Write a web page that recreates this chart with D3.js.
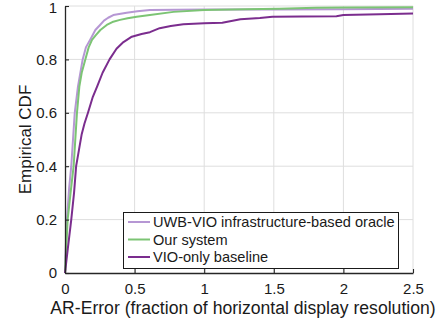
<!DOCTYPE html>
<html><head><meta charset="utf-8">
<script src="https://cdn.jsdelivr.net/npm/d3@7"></script>
<style>
body{margin:0;background:#fff;}
svg text{font-family:"Liberation Sans",Arial,Helvetica,sans-serif;fill:#1a1a1a;}
</style></head>
<body><svg id="c" width="439" height="325"></svg>
<script>
const xTicks=[0,0.5,1,1.5,2,2.5];
const xTickLabels=["0","0.5","1","1.5","2","2.5"];
const yTicks=[0,0.2,0.4,0.6,0.8,1];
const yTickLabels=["0","0.2","0.4","0.6","0.8","1"];
const seriesNames=["UWB-VIO infrastructure-based oracle","Our system","VIO-only baseline"];

const oracleX=[0,0.003,0.014,0.03,0.045,0.07,0.093,0.127,0.15,0.18,0.218,0.25,0.28,0.31,0.347,0.4,0.443,0.52,0.61,0.8,1.0,1.5,2.0,2.5];
const oracleY=[0,0.06,0.2,0.32,0.4,0.6,0.698,0.8,0.845,0.873,0.91,0.928,0.945,0.956,0.966,0.971,0.975,0.98,0.985,0.986,0.987,0.987,0.988,0.99];

const oursX=[0,0.005,0.019,0.04,0.062,0.086,0.103,0.12,0.146,0.17,0.194,0.22,0.254,0.3,0.34,0.395,0.45,0.515,0.61,0.78,1.0,1.3,1.54,1.8,2.0,2.5];
const oursY=[0,0.05,0.2,0.3,0.4,0.6,0.698,0.75,0.8,0.845,0.873,0.89,0.91,0.929,0.94,0.948,0.954,0.96,0.966,0.978,0.985,0.988,0.99,0.993,0.994,0.995];

const vioX=[0,0.02,0.045,0.065,0.08,0.1,0.12,0.14,0.165,0.2,0.232,0.27,0.32,0.37,0.42,0.48,0.55,0.61,0.68,0.76,0.85,1.0,1.13,1.26,1.4,1.49,1.7,1.95,2.0,2.26,2.5];
const vioY=[0,0.09,0.2,0.3,0.4,0.46,0.52,0.56,0.6,0.66,0.7,0.75,0.8,0.84,0.865,0.885,0.895,0.902,0.917,0.925,0.932,0.935,0.937,0.95,0.955,0.96,0.961,0.962,0.966,0.969,0.972];

const colors=["#b697d4","#7cc474","#7b2d8e"];
const svg=d3.select("#c");
const L=65,R=413,T=6,B=273;
const x=d3.scaleLinear().domain([0,2.5]).range([L,R]);
const y=d3.scaleLinear().domain([0,1]).range([B,T]);

// grid
const g=svg.append("g");
g.selectAll(".vg").data(xTicks.slice(1)).enter().append("line")
 .attr("x1",d=>x(d)).attr("x2",d=>x(d)).attr("y1",T).attr("y2",B)
 .attr("stroke","#dedede").attr("stroke-width",1);
g.selectAll(".hg").data(yTicks.slice(1)).enter().append("line")
 .attr("x1",L).attr("x2",R).attr("y1",d=>y(d)).attr("y2",d=>y(d))
 .attr("stroke","#dedede").attr("stroke-width",1);

// lines
const sets=[[oracleX,oracleY],[oursX,oursY],[vioX,vioY]];
const line=d3.line().x(d=>x(d[0])).y(d=>y(d[1]));
sets.forEach((s,i)=>{
  const pts=s[0].map((v,j)=>[v,s[1][j]]);
  svg.append("path").attr("d",line(pts)).attr("fill","none")
   .attr("stroke",colors[i]).attr("stroke-width",2).attr("stroke-linejoin","round");
});

// axes
const xa=d3.axisBottom(x).tickValues(xTicks).tickFormat((d,i)=>xTickLabels[i]).tickSizeInner(-4).tickSizeOuter(0).tickPadding(10);
const ya=d3.axisLeft(y).tickValues(yTicks).tickFormat((d,i)=>yTickLabels[i]).tickSizeInner(-4).tickSizeOuter(0).tickPadding(8);
const gx=svg.append("g").attr("transform",`translate(0,${B})`).call(xa);
const gy=svg.append("g").attr("transform",`translate(${L},0)`).call(ya);
[gx,gy].forEach(a=>{
  a.select(".domain").attr("stroke","#262626").attr("stroke-width",1.3);
  a.selectAll(".tick line").attr("stroke","#262626").attr("stroke-width",1.1);
  a.selectAll(".tick text").attr("font-size",15).attr("font-family","Liberation Sans,Arial,sans-serif").attr("fill","#1a1a1a");
});
gy.selectAll(".tick text").filter(d=>d===1).attr("dy","0.42em");

svg.append("text").attr("x",(L+R)/2+4).attr("y",314).attr("text-anchor","middle")
 .attr("font-size",17.6).text("AR-Error (fraction of horizontal display resolution)");
svg.append("text").attr("transform",`translate(31,${(T+B)/2}) rotate(-90)`).attr("text-anchor","middle")
 .attr("font-size",17).text("Empirical CDF");

// legend
const lg=svg.append("g");
lg.append("rect").attr("x",123.5).attr("y",212.5).attr("width",275).attr("height",56)
 .attr("fill","#fff").attr("stroke","#1a1a1a").attr("stroke-width",1);
seriesNames.forEach((n,i)=>{
  const yy=222+i*17.5;
  lg.append("line").attr("x1",128).attr("x2",150).attr("y1",yy).attr("y2",yy)
   .attr("stroke",colors[i]).attr("stroke-width",2);
  lg.append("text").attr("x",153).attr("y",yy+5).attr("font-size",14.6).text(n);
});
</script></body></html>
